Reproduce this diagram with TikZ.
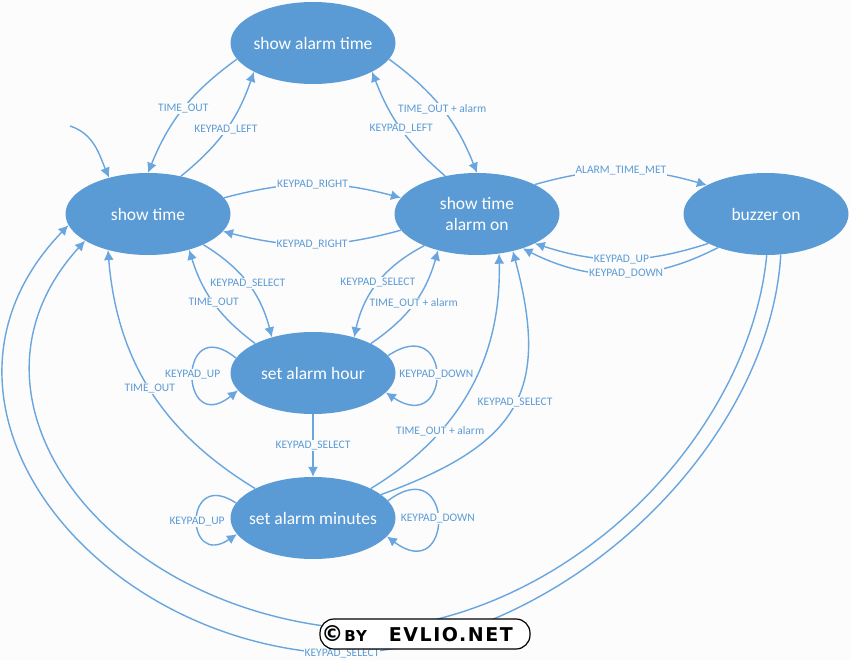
\documentclass[tikz,border=0pt]{standalone}
\usepackage{fontspec}
\setmainfont{Carlito}
\newfontfamily\markfont[LetterSpace=8]{DejaVu Sans}
\usetikzlibrary{shapes,arrows.meta,positioning}
\definecolor{alarmblue}{RGB}{91, 155, 213}
\definecolor{arcblue}{RGB}{105, 165, 222}
\definecolor{pagebg}{RGB}{252, 252, 252}
\tikzset{
    statenode/.style={draw=none, ellipse, fill=alarmblue, text=white, minimum width=165pt, minimum height=82pt, inner sep=-15pt, align=center, font=\fontsize{17.5}{21}\selectfont},
    arclabel/.style={fill=pagebg, inner sep=1pt, text=alarmblue, font=\fontsize{11.5}{13}\selectfont},
    arc/.style={draw=arcblue, line width=1.4pt, -{Latex[length=10pt,width=10pt]}}
}

\begin{document}
\begin{tikzpicture}[x=1pt, y=-1pt, node distance=160pt, on grid]
    \useasboundingbox[fill=pagebg] (0,0) rectangle (850,660);

    \node [statenode] at (148,214) (showtime) {show time};
    \node [statenode, right=329pt of showtime] (alarmon) {show time\\alarm on};
    \node [statenode, right=289pt of alarmon] (buzzer) {buzzer on};
    \node [statenode, above right=171pt and 165pt of showtime] (showalarm) {show alarm time};
    \node [statenode, below right=159pt and 165pt of showtime] (sethour) {set alarm hour};
    \node [statenode, below=145pt of sethour] (setminutes) {set alarm minutes};

    \coordinate (start) at (70,126);
    \draw [arc] (start) to[out=-18, in=113] (showtime.137);

    % top triangle
    \draw [arc] (showtime.49) to[bend right=16] node[arclabel] {KEYPAD\_LEFT} (showalarm.206);
    \draw [arc] (showalarm.192) to[bend right=16] node[arclabel] {TIME\_OUT} (showtime.90);
    \draw [arc] (showalarm.-12) to[bend left=16] node[arclabel] {TIME\_OUT + alarm} (alarmon.90);
    \draw [arc] (alarmon.130) to[bend left=14] node[arclabel] {KEYPAD\_LEFT} (showalarm.-26);

    % middle row
    \draw [arc] (showtime.12) to[bend left=15] node[arclabel] {KEYPAD\_RIGHT} (alarmon.168);
    \draw [arc] (alarmon.192) to[bend left=15] node[arclabel] {KEYPAD\_RIGHT} (showtime.-13);
    \draw [arc] (alarmon.27) to[bend left=16] node[arclabel] {ALARM\_TIME\_MET} (buzzer.154);
    \draw [arc] (buzzer.207) to[bend left=18] node[arclabel] {KEYPAD\_UP} (alarmon.-27);
    \draw [arc] (buzzer.215) to[bend left=27] node[arclabel, pos=.47] {KEYPAD\_DOWN} (alarmon.-37);

    % set alarm hour
    \draw [arc] (showtime.-29) to[bend left=22] node[arclabel] {KEYPAD\_SELECT} (sethour.139);
    \draw [arc] (sethour.153) to[bend left=18] node[arclabel] {TIME\_OUT} (showtime.-41);
    \draw [arc] (alarmon.211) to[bend right=25] node[arclabel] {KEYPAD\_SELECT} (sethour.41);
    \draw [arc] (sethour.27) to[bend right=20] node[arclabel] {TIME\_OUT + alarm} (alarmon.223);
    \draw [arc] (sethour.169) to[out=141, in=219, looseness=6] node[arclabel] {KEYPAD\_UP} (sethour.193);
    \draw [arc] (sethour.13) to[out=34, in=-34, looseness=5.5] node[arclabel] {KEYPAD\_DOWN} (sethour.-15);
    \draw [arc] (sethour) -- node[arclabel] {KEYPAD\_SELECT} (setminutes);

    % set alarm minutes
    \draw [arc] (setminutes.153) to[bend left=27] node[arclabel] {TIME\_OUT} (showtime.222);
    \draw [arc] (setminutes.27) to[bend right=30] node[arclabel, pos=.31] {TIME\_OUT + alarm} (alarmon.-61);
    \draw [arc] (setminutes.19) to[out=20, in=-75, looseness=1.35] node[arclabel, pos=.52] {KEYPAD\_SELECT} (alarmon.-46);
    \draw [arc] (setminutes.169) to[out=146, in=214, looseness=5.2] node[arclabel, yshift=-3pt] {KEYPAD\_UP} (setminutes.192);
    \draw [arc] (setminutes.13) to[out=37, in=-37, looseness=6] node[arclabel] {KEYPAD\_DOWN} (setminutes.-14);

    % back from the buzzer
    \coordinate (innerlow) at (370,630);
    \coordinate (outerlow) at (342,654);
    \draw [arc] (buzzer.-89) .. controls (750,430) and (578,615) .. (innerlow) .. controls (110,620) and (-60,400) .. (showtime.203);
    \draw [arc] (buzzer.-70) .. controls (770,440) and (572,644) .. (outerlow) node[arclabel] {KEYPAD\_SELECT} .. controls (90,645) and (-100,400) .. (showtime.188);

    \node [draw=black, fill=white, line width=1.2pt, rounded corners=14pt, minimum width=210pt, minimum height=30pt, inner sep=0pt, font=\markfont\bfseries\fontsize{15}{16}\selectfont] at (425,634) (watermark) {{\fontsize{22}{22}\selectfont\textcopyright}\hspace{1pt}BY\hspace{22pt}{\fontsize{19}{19}\selectfont EVLIO.NET}\kern16pt};
\end{tikzpicture}
\end{document}
